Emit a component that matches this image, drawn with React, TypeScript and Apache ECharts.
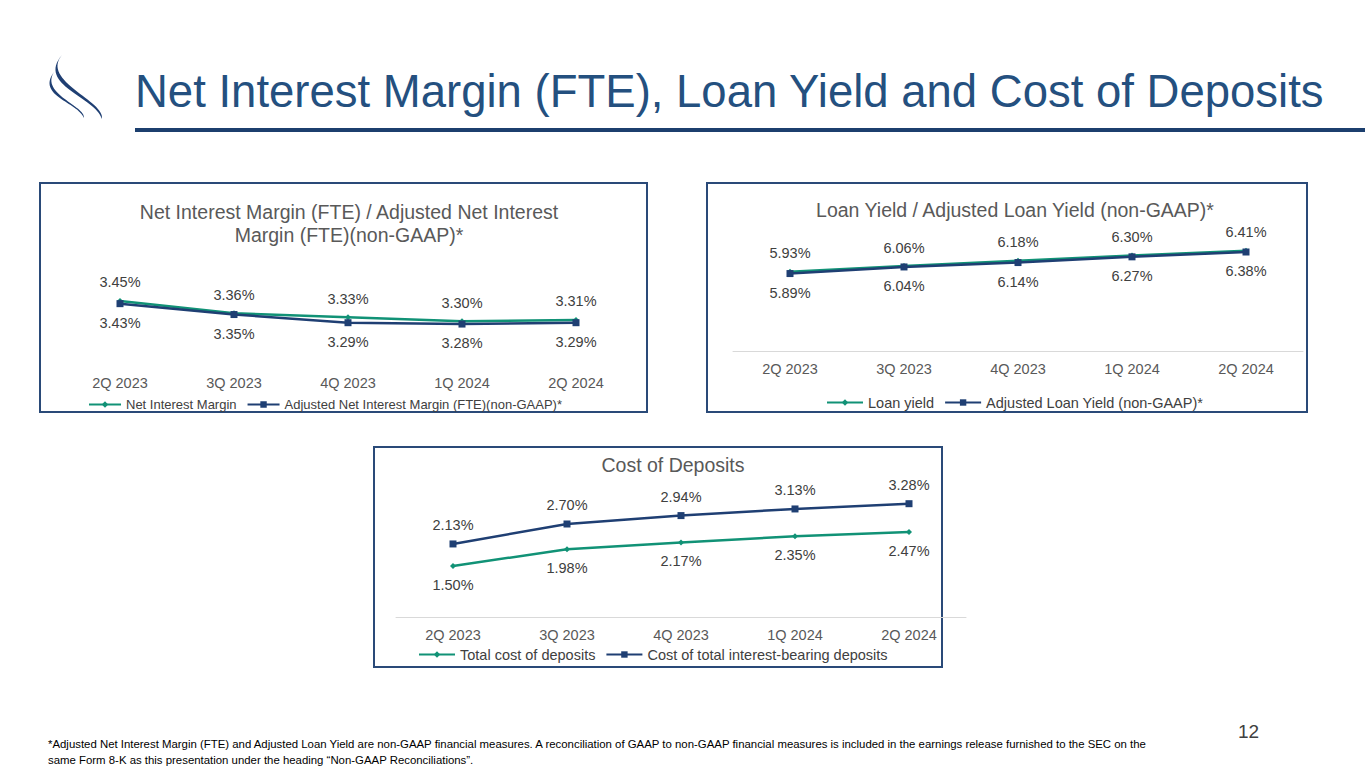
import { useEffect, useRef } from 'react';
import * as echarts from 'echarts';

const quarters = ['2Q 2023', '3Q 2023', '4Q 2023', '1Q 2024', '2Q 2024'];
const nim = [3.45, 3.36, 3.33, 3.30, 3.31];
const adjNim = [3.43, 3.35, 3.29, 3.28, 3.29];
const loanYield = [5.93, 6.06, 6.18, 6.30, 6.41];
const adjLoanYield = [5.89, 6.04, 6.14, 6.27, 6.38];
const totalCost = [1.50, 1.98, 2.17, 2.35, 2.47];
const ibCost = [2.13, 2.70, 2.94, 3.13, 3.28];

const GREEN = '#119276';
const NAVY = '#1f3f73';
const FONT = 'Liberation Sans, Arial, sans-serif';
const FS = 14.5;

const logoA = 'M0 0 C-22 26 44 46 40 64 C34 42 -26 30 0 0 Z';
const logoB = 'M0 0 C-14 22 32 34 30 46 C24 30 -18 24 0 0 Z';

export default function App() {
  const ref = useRef<HTMLDivElement>(null);

  useEffect(() => {
    if (!ref.current) return;
    document.body.style.margin = '0';
    echarts.graphic.registerShape('logoA', echarts.graphic.extendPath(logoA, {}));
    echarts.graphic.registerShape('logoB', echarts.graphic.extendPath(logoB, {}));
    const chart = echarts.init(ref.current, null, { renderer: 'svg' });

    const lbl = (pos: string) => ({
      show: true, position: pos, distance: 8, color: '#404040', fontSize: FS, fontFamily: FONT,
      formatter: (p: any) => p.value.toFixed(2) + '%',
    });
    const mk = (name: string, data: number[], color: string, symbol: string, size: number, idx: number, pos: string) => ({
      type: 'line', name, data, xAxisIndex: idx, yAxisIndex: idx, symbol, symbolSize: size,
      lineStyle: { color, width: 2.5 }, itemStyle: { color }, label: lbl(pos), z: color === GREEN ? 2 : 3,
    });

    const grids = [
      { left: 63, width: 570, top: 260, height: 105, min: 2.979, max: 3.751 },
      { left: 733, width: 570, top: 230, height: 121, min: 4.13, max: 6.88 },
      { left: 396, width: 570, top: 480, height: 137, min: 0.043, max: 3.957 },
    ];
    const showLine = [false, true, true];

    const legend = (x: number, y: number, names: string[], fs: number, w: number) => ({
      left: x, top: y, itemGap: 10, itemWidth: w, itemHeight: 8, padding: 0,
      textStyle: { color: '#404040', fontSize: fs, fontFamily: FONT },
      data: names,
    });
    const tStyle = { color: '#595959', fontSize: 19.5, fontWeight: 'normal', fontFamily: FONT, lineHeight: 23 };

    chart.setOption({
      animation: false,
      title: [
        { text: 'Net Interest Margin (FTE) / Adjusted Net Interest\nMargin (FTE)(non-GAAP)*', left: 344, top: 195, textAlign: 'center', textStyle: tStyle },
        { text: 'Loan Yield / Adjusted Loan Yield (non-GAAP)*', left: 1010, top: 193, textAlign: 'center', textStyle: tStyle },
        { text: 'Cost of Deposits', left: 668, top: 448, textAlign: 'center', textStyle: tStyle },
      ],
      legend: [
        legend(88, 398, ['Net Interest Margin', 'Adjusted Net Interest Margin (FTE)(non-GAAP)*'], 13, 32),
        legend(826, 395, ['Loan yield', 'Adjusted Loan Yield (non-GAAP)*'], FS, 36),
        legend(418, 647, ['Total cost of deposits', 'Cost of total interest-bearing deposits'], FS, 36),
      ],
      grid: grids.map(g => ({ left: g.left, width: g.width, top: g.top, height: g.height })),
      xAxis: grids.map((_, i) => ({
        type: 'category', gridIndex: i, data: quarters,
        axisLine: { show: showLine[i], lineStyle: { color: '#d9d9d9' } }, axisTick: { show: false },
        axisLabel: { color: '#595959', fontSize: FS, fontFamily: FONT, margin: 10 },
      })),
      yAxis: grids.map((g, i) => ({
        type: 'value', gridIndex: i, min: g.min, max: g.max, show: false, splitLine: { show: false },
      })),
      series: [
        mk('Net Interest Margin', nim, GREEN, 'diamond', 6, 0, 'top'),
        mk('Adjusted Net Interest Margin (FTE)(non-GAAP)*', adjNim, NAVY, 'rect', 7, 0, 'bottom'),
        mk('Loan yield', loanYield, GREEN, 'diamond', 6, 1, 'top'),
        mk('Adjusted Loan Yield (non-GAAP)*', adjLoanYield, NAVY, 'rect', 7, 1, 'bottom'),
        mk('Total cost of deposits', totalCost, GREEN, 'diamond', 6, 2, 'bottom'),
        mk('Cost of total interest-bearing deposits', ibCost, NAVY, 'rect', 7, 2, 'top'),
      ],
      graphic: [
        { type: 'logoA', x: 62, y: 55, style: { fill: NAVY } },
        { type: 'logoB', x: 54, y: 72, style: { fill: NAVY } },
        { type: 'text', left: 135, top: 68, style: { text: 'Net Interest Margin (FTE), Loan Yield and Cost of Deposits', fill: '#24507f', fontSize: 45.5, fontFamily: FONT } },
        { type: 'rect', shape: { x: 135, y: 128, width: 1230, height: 4 }, style: { fill: '#1c3f6e' } },
        { type: 'rect', shape: { x: 40, y: 183, width: 607, height: 229 }, style: { fill: 'none', stroke: '#2a4a78', lineWidth: 2 }, z: -1 },
        { type: 'rect', shape: { x: 707, y: 183, width: 600, height: 229 }, style: { fill: 'none', stroke: '#2a4a78', lineWidth: 2 }, z: -1 },
        { type: 'rect', shape: { x: 374, y: 447, width: 568, height: 220 }, style: { fill: 'none', stroke: '#2a4a78', lineWidth: 2 }, z: -1 },
        { type: 'text', left: 1238, top: 722, style: { text: '12', fill: '#404040', fontSize: 19, fontFamily: FONT } },
        { type: 'text', left: 48, top: 736, style: {
          text: '*Adjusted Net Interest Margin (FTE) and Adjusted Loan Yield are non-GAAP financial measures. A reconciliation of GAAP to non-GAAP financial measures is included in the earnings release furnished to the SEC on the\nsame Form 8-K as this presentation under the heading \u201cNon-GAAP Reconciliations\u201d.',
          fill: '#000', fontSize: 11.4, fontFamily: FONT, lineHeight: 16 } },
      ],
    });
    return () => chart.dispose();
  }, []);

  return <div ref={ref} style={{ position: 'fixed', left: 0, top: 0, width: 1365, height: 768, background: '#fff' }} />;
}
